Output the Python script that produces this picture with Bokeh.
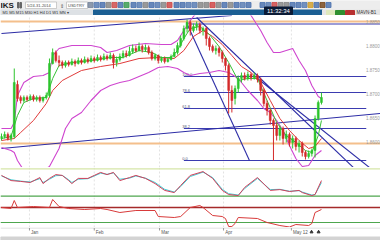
from bokeh.plotting import figure
from bokeh.layouts import column
from bokeh.models import Range1d
from bokeh.core.properties import value
from bokeh.embed import file_html
from bokeh.resources import INLINE

FONT = value("Liberation Sans")

# ---------------- price data (arbitrary price points) ----------------
opens = [29, 31, 33, 29, 31, 83, 70, 67, 70, 68, 71, 68, 70, 67, 70, 72, 104, 115, 107, 105,
         102, 105, 103, 106, 104, 107, 105, 108, 106, 109, 107, 110, 108, 111, 109, 112, 105, 108, 111, 114,
         112, 116, 119, 117, 121, 118, 120, 115, 109, 112, 107, 109, 106, 108, 111, 115, 122, 129, 139, 145,
         137, 141, 143, 137, 139, 129, 121, 117, 119, 115, 109, 102, 77, 69, 79, 89, 92, 89, 93, 90,
         92, 88, 77, 64, 57, 47, 42, 32, 39, 29, 33, 25, 29, 21, 24, 15, 11, 14, 17, 49, 65]
closes = [31, 33, 29, 32, 85, 69, 67, 70, 68, 71, 68, 70, 67, 70, 72, 104, 115, 107, 105, 102,
          105, 103, 106, 104, 107, 105, 108, 106, 109, 107, 110, 108, 111, 109, 112, 105, 108, 111, 114, 112,
          116, 119, 117, 121, 118, 120, 115, 109, 112, 107, 109, 106, 108, 111, 115, 122, 129, 139, 145, 137,
          141, 143, 137, 139, 129, 121, 117, 119, 115, 109, 102, 77, 67, 79, 89, 92, 89, 93, 90, 92,
          88, 77, 64, 57, 47, 42, 32, 39, 29, 33, 25, 29, 21, 24, 15, 11, 14, 17, 49, 65, 70]
highs = [34, 36, 35, 34, 99, 87, 72, 72, 72, 73, 73, 72, 72, 71, 75, 109, 119, 117, 112, 107,
         107, 107, 109, 108, 110, 109, 111, 110, 112, 111, 113, 112, 114, 113, 115, 114, 111, 114, 117, 117,
         121, 123, 122, 125, 123, 123, 122, 117, 114, 113, 111, 111, 110, 113, 119, 125, 132, 142, 148, 147,
         144, 146, 145, 141, 141, 131, 123, 122, 121, 117, 110, 104, 82, 82, 92, 95, 95, 96, 95, 95,
         94, 90, 79, 67, 59, 49, 45, 42, 41, 37, 35, 32, 31, 27, 26, 17, 17, 19, 52, 67, 75]
lows = [27, 29, 27, 26, 29, 66, 64, 65, 66, 67, 66, 66, 65, 65, 68, 70, 103, 105, 101, 99,
        100, 101, 102, 101, 103, 103, 104, 104, 105, 105, 106, 106, 107, 107, 108, 99, 101, 106, 109, 110,
        111, 114, 115, 116, 115, 116, 113, 107, 107, 104, 105, 104, 105, 107, 110, 113, 120, 127, 135, 132,
        135, 137, 134, 132, 122, 117, 115, 113, 111, 105, 97, 54, 55, 63, 75, 85, 87, 87, 87, 88,
        85, 72, 61, 52, 43, 7, 27, 27, 23, 25, 21, 19, 17, 15, 11, 8, 9, 11, 10, 47, 63]
bar_idx = list(range(len(opens)))

# Bollinger bands
upper_idx = [0, 3, 4, 5, 7, 10, 13, 15, 16, 18, 22, 28, 31, 33, 36, 40, 45, 50, 53, 55,
             57, 59, 61, 63, 66, 70, 75, 78, 81, 83, 85, 87, 89, 91, 93, 95, 97, 99, 100]
upper_band = [39, 39, 45, 72, 85, 91, 92, 95, 112, 119, 122, 122, 120, 115, 117, 122, 124, 123, 123, 127,
              137, 147, 155, 161, 164, 167, 162, 152, 137, 125, 115, 115, 117, 119, 107, 97, 82, 71, 69]
lower_idx = [0, 3, 4, 5, 7, 10, 13, 15, 16, 18, 20, 22, 25, 28, 31, 34, 37, 40, 43, 46,
             49, 52, 55, 57, 59, 62, 65, 68, 71, 74, 77, 80, 82, 84, 86, 88, 90, 92, 94, 96, 98, 100]
lower_band = [20, 17, 15, 7, -3, -5, -3, 1, 7, 19, 39, 49, 55, 67, 77, 82, 85, 87, 91, 95,
              100, 101, 99, 95, 92, 94, 95, 97, 95, 89, 77, 67, 59, 55, 47, 37, 22, 9, 1, 2, 12, 17]
# moving averages
slow_idx = [0, 4, 6, 10, 14, 16, 19, 25, 31, 37, 43, 49, 54, 57, 60, 63, 66, 69, 72, 75,
            78, 81, 84, 87, 90, 93, 96, 98, 100]
slow_ma = [27, 29, 35, 47, 64, 77, 87, 97, 101, 104, 109, 110, 109, 117, 131, 137, 131, 123, 112, 101,
           95, 85, 67, 49, 37, 27, 19, 21, 29]
fast_idx = [0, 3, 5, 7, 10, 14, 16, 18, 22, 28, 34, 38, 43, 47, 50, 53, 55, 57, 59, 62,
            65, 68, 71, 74, 77, 80, 83, 86, 89, 92, 95, 97, 99, 100]
fast_ma = [29, 31, 52, 65, 69, 70, 89, 102, 105, 107, 110, 110, 117, 115, 110, 110, 117, 129, 139, 141,
           133, 121, 105, 87, 89, 89, 67, 45, 32, 25, 17, 15, 32, 47]

# Fibonacci levels
fib_levels = [7, 39, 59, 75, 91]
fib_labels = ["0.0", "38.2", "61.8", "78.6", "100.0"]
fib_start = 57
level_end = 114
orange_levels = [24, 146]
blue_level = 143.5
blue_level_start = 59
# trend lines (start index, start price, end index, end price)
trend_x0 = [0, 0, 57.8, 61, 80]
trend_y0 = [134, 19, 145, 150, 89]
trend_x1 = [72, 118.4, 77.5, 110.3, 115]
trend_y1 = [152, 54, 7, -1, 0]

price_ticks = [146, 122, 98, 74, 50, 26]
price_labels = ["1.8850", "1.8800", "1.8750", "1.8700", "1.8650", "1.8600"]

# oscillator 1 (stochastic-like, 0-100)
osc1_idx = [0, 3, 6, 9, 12, 13, 15, 17, 19, 21, 22, 24, 27, 29, 31, 33, 35, 37, 40, 42,
            45, 48, 51, 54, 56, 59, 63, 66, 69, 71, 74, 76, 80, 84, 87, 90, 93, 94, 97, 98, 100]
osc1_main = [76, 57, 54, 50, 68, 46, 65, 79, 76, 57, 46, 65, 65, 76, 87, 79, 87, 57, 68, 76,
             65, 46, 21, 13, 39, 76, 90, 65, 21, 6, 2, 32, 68, 21, 24, 17, 21, 13, 2, 6, 57]
osc1_signal = [74, 60, 55, 52, 64, 50, 62, 75, 76, 60, 50, 62, 64, 74, 84, 80, 85, 62, 66, 74,
               66, 50, 25, 15, 35, 72, 88, 68, 25, 9, 4, 28, 65, 24, 25, 18, 20, 15, 4, 6, 50]
osc1_levels = [100, 0]

# oscillator 2
osc2_idx = [0, 3, 4, 5, 10, 15, 16, 18, 21, 26, 31, 33, 37, 42, 48, 49, 54, 56, 59, 62,
            63, 66, 69, 70, 71, 72, 73, 74, 80, 83, 87, 90, 92, 96, 97, 98, 100]
osc2_vals = [0, -2, 14, 0, 2, 0, 16, 2, -2, -4, -2, -4, -10, -6, -6, -18, -20, -18, 0, 4,
             0, -16, -18, -22, -38, -38, -32, -20, -22, -30, -36, -39, -34, -36, -32, -10, -4]
osc2_zero = 0
osc2_low = -30

date_idx = [8.75, 29, 49.4, 69.4, 90.6]
date_labels = ["Jan", "Feb", "Mar", "Apr", "May 12"]

# ---------------- styling ----------------
UP = "#2cc42c"
DN = "#d42a2a"
BAND = "#cf45cf"
LEVEL = "#3b3bb0"
TREND = "#2d2da6"
ORANGE = "#f4bf8c"
GRID = "#e2e2e2"

W = 380
xr = Range1d(-0.3, 118.45)


def base(h, yr, xrange=xr):
    f = figure(width=W, height=h, x_range=xrange, y_range=yr, output_backend="svg",
               toolbar_location=None, min_border=0, x_axis_location=None, y_axis_location=None)
    f.grid.visible = False
    f.outline_line_color = None
    f.background_fill_color = "white"
    f.border_fill_color = "white"
    return f


# ---------------- header ----------------
hd = base(15, Range1d(15, 0), Range1d(0, 380))
hd.quad(left=[0], right=[380], top=[0], bottom=[9.5], color="#ededed")
hd.text(x=[0], y=[5], text=["IKS"], text_font=FONT, text_font_size="8px",
        text_font_style="bold", text_color="#1a1a1a", text_baseline="middle")
hd.quad(left=[17, 19.5], right=[18.5, 21], top=[2, 2], bottom=[7.5, 7.5], color="#666666")
hd.quad(left=[25, 66], right=[56, 87], top=[1.5, 1.5], bottom=[8, 8],
        fill_color="white", line_color="#b0b0b0", line_width=0.6)
hd.text(x=[26.5, 67.5], y=[5, 5], text=["5/24-31-2014", "USDTRY"], text_font=FONT,
        text_font_size="4px", text_color="#444444", text_baseline="middle")
hd.text(x=[59, 61], y=[5, 5], text=["⇕", ""], text_font=FONT, text_font_size="5px",
        text_color="#555555", text_baseline="middle")
icon_x = [90, 96, 102, 108, 114, 120, 126, 133, 139, 145, 151, 157, 163, 169, 176, 182, 188, 194,
          200, 206, 212, 218, 224, 230, 236, 242, 248, 262, 268, 274, 280, 286, 292, 298, 304, 310,
          316, 322, 328]
icon_c = ["#7a8aa0", "#5c7fb5", "#4f74b0", "#8a8a8a", "#d05050", "#4f74b0", "#3f9f55", "#4f74b0",
          "#5c7fb5", "#8a8a8a", "#4f74b0", "#5c7fb5", "#8a8a8a", "#d04a4a", "#4f74b0", "#4f74b0",
          "#5c7fb5", "#5c7fb5", "#8a8a8a", "#8a8a8a", "#d04a4a", "#8a8a8a", "#4f74b0", "#8a8a8a",
          "#4f74b0", "#5c7fb5", "#4f74b0", "#4f74b0", "#5c7fb5", "#d04a4a", "#8a8a8a", "#8a8a8a",
          "#4f74b0", "#4f74b0", "#5c7fb5", "#d0a030", "#4f74b0", "#7a4a20", "#4f74b0"]
hd.scatter(x=icon_x, y=[4.5] * len(icon_x), marker="square", size=5, color=icon_c, alpha=0.85)
hd.quad(left=[0], right=[93], top=[9.5], bottom=[15], color="#dde1e5")
hd.text(x=[2], y=[12.3], text=["M1   M5   M15   M30   H1   H4   D1   W1   MN  ▾"], text_font=FONT,
        text_font_size="4px", text_color="#333333", text_baseline="middle")
hd.quad(left=[93], right=[322], top=[9.5], bottom=[15], color="#1b5f93")
hd.quad(left=[264], right=[292], top=[6.5], bottom=[14], color="#0b1b36")
hd.text(x=[278], y=[10.4], text=["11:32:34"], text_font=FONT, text_font_size="6px",
        text_color="white", text_align="center", text_baseline="middle")
hd.quad(left=[322], right=[380], top=[9.5], bottom=[15], color="#e6e6e6")
hd.quad(left=[326, 335, 345], right=[334, 344, 354], top=[10, 10, 10], bottom=[14.5, 14.5, 14.5],
        color=["#dfe9bd", "#2f8f2f", "#b83030"])
hd.text(x=[356], y=[12.3], text=["MAVN-B1"], text_font=FONT, text_font_size="4.5px",
        text_color="#333333", text_baseline="middle")

# ---------------- main price panel ----------------
mp = base(152, Range1d(0, 152))
mp.segment(x0=date_idx, y0=[0] * 5, x1=date_idx, y1=[152] * 5, line_color=GRID,
           line_width=1, line_dash="2 2")
mp.segment(x0=[xr.start, xr.start], y0=orange_levels, x1=[xr.end, xr.end], y1=orange_levels,
           line_color=ORANGE, line_width=2)
mp.segment(x0=[blue_level_start], y0=[blue_level], x1=[xr.end], y1=[blue_level],
           line_color=LEVEL, line_width=1.2)
mp.segment(x0=[fib_start] * len(fib_levels), y0=fib_levels, x1=[level_end] * len(fib_levels),
           y1=fib_levels, line_color=LEVEL, line_width=1.2)
mp.text(x=[fib_start - 0.5] * len(fib_levels), y=[v + 1 for v in fib_levels], text=fib_labels,
        text_font=FONT, text_font_size="4px", text_color="#555577", text_baseline="bottom")
mp.segment(x0=trend_x0, y0=trend_y0, x1=trend_x1, y1=trend_y1, line_color=TREND, line_width=1.1)
mp.line(upper_idx, upper_band, line_color=BAND, line_width=1.1)
mp.line(lower_idx, lower_band, line_color=BAND, line_width=1.1)
mp.line(slow_idx, slow_ma, line_color="#e03a3a", line_width=1)
mp.line(fast_idx, fast_ma, line_color="#35c035", line_width=1)
cols = [UP if c >= o else DN for o, c in zip(opens, closes)]
mp.segment(x0=bar_idx, y0=lows, x1=bar_idx, y1=highs, line_color=cols, line_width=1)
mp.vbar(x=bar_idx, width=0.6, top=[max(o, c) for o, c in zip(opens, closes)],
        bottom=[min(o, c) for o, c in zip(opens, closes)], fill_color=cols, line_color=cols,
        line_width=0.5)
mp.text(x=[118.2] * len(price_ticks), y=price_ticks, text=price_labels, text_font=FONT,
        text_font_size="4.5px", text_color="#9a9a9a", text_align="right", text_baseline="middle")

# ---------------- oscillator 1 ----------------
o1 = base(30, Range1d(-5, 105))
o1.segment(x0=date_idx, y0=[-5] * 5, x1=date_idx, y1=[105] * 5, line_color=GRID, line_dash="2 2")
o1.segment(x0=[xr.start] * 2, y0=osc1_levels, x1=[xr.end] * 2, y1=osc1_levels,
           line_color=["#d6e6a8", "#4ea64e"], line_width=1.2)
o1.line(osc1_idx, osc1_signal, line_color="#3ecfd6", line_width=1)
o1.line(osc1_idx, osc1_main, line_color="#d2405a", line_width=1)

# ---------------- oscillator 2 ----------------
o2 = base(30, Range1d(-40, 20))
o2.segment(x0=date_idx, y0=[-40] * 5, x1=date_idx, y1=[20] * 5, line_color=GRID, line_dash="2 2")
o2.segment(x0=[xr.start], y0=[osc2_zero], x1=[xr.end], y1=[osc2_zero], line_color="#a52a2a",
           line_width=1.5)
o2.segment(x0=[xr.start], y0=[osc2_low], x1=[xr.end], y1=[osc2_low], line_color="#4ea64e",
           line_width=1.2)
o2.line(osc2_idx, osc2_vals, line_color="#d83a3a", line_width=1)

# ---------------- time axis strip ----------------
ax = base(13, Range1d(13, 0))
ax.segment(x0=[xr.start], y0=[0.5], x1=[xr.end], y1=[0.5], line_color="#d8d8d8", line_width=1)
ax.segment(x0=date_idx, y0=[0.5] * 5, x1=date_idx, y1=[3] * 5, line_color="#999999")
ax.text(x=[d + 0.5 for d in date_idx], y=[5] * 5, text=date_labels, text_font=FONT,
        text_font_size="4.5px", text_color="#555555", text_baseline="middle")
ax.scatter(x=[96.9, 99.1], y=[4.5, 4.5], marker="triangle", size=3, color="#333333")
ax.quad(left=[xr.start], right=[xr.end], top=[9.5], bottom=[13], color="#d3d3d3")

layout = column(hd, mp, o1, o2, ax, spacing=0)
open("out.html", "w").write(file_html(layout, INLINE))
